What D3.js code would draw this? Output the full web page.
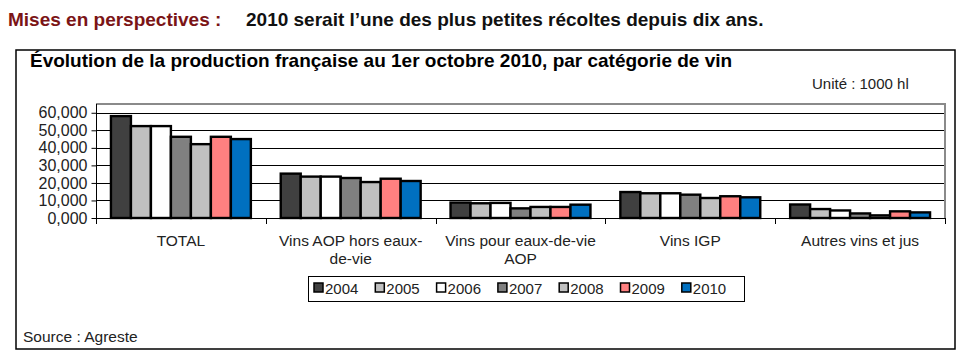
<!DOCTYPE html>
<html>
<head>
<meta charset="utf-8">
<script src="https://cdn.jsdelivr.net/npm/d3@7"></script>
<style>
  body { margin: 0; background: #fff; }
  svg { display: block; font-family: "Liberation Sans", Arial, sans-serif; }
</style>
</head>
<body>
<div id="chart"></div>
<script>
(function() {
const categories = ["TOTAL", "Vins AOP hors eaux-de-vie", "Vins pour eaux-de-vie AOP", "Vins IGP", "Autres vins et jus"];
const years = ["2004", "2005", "2006", "2007", "2008", "2009", "2010"];
// production, 1000 hl, one array per year (same order as categories)
const v2004 = [58100, 25300, 8800, 14800, 7700];
const v2005 = [52400, 23600, 8400, 14100, 5100];
const v2006 = [52400, 23600, 8600, 14100, 4300];
const v2007 = [46300, 22800, 5500, 13300, 2600];
const v2008 = [42100, 20500, 6300, 11400, 1500];
const v2009 = [46300, 22400, 6300, 12400, 3800];
const v2010 = [45000, 21100, 7600, 11800, 3200];
const yTicks = [0, 10000, 20000, 30000, 40000, 50000, 60000];
const colors = ["#404040", "#c0c0c0", "#ffffff", "#808080", "#c0c0c0", "#ff8080", "#0070c0"];

const series = [v2004, v2005, v2006, v2007, v2008, v2009, v2010];
const rows = [];
categories.forEach((c, i) => {
  years.forEach((yr, j) => rows.push({ cat: c, year: yr, value: series[j][i], color: colors[j] }));
});

const W = 972, H = 364;
const svg = d3.select('#chart').append('svg')
  .attr('width', W).attr('height', H);

// header line
svg.append('text')
  .attr('x', 8).attr('y', 26)
  .attr('font-size', 19).attr('font-weight', 'bold')
  .attr('fill', '#7b1416')
  .text('Mises en perspectives :');
svg.append('text')
  .attr('x', 246).attr('y', 26)
  .attr('font-size', 19).attr('font-weight', 'bold')
  .attr('fill', '#111')
  .text('2010 serait l\u2019une des plus petites récoltes depuis dix ans.');

// outer frame
svg.append('rect')
  .attr('x', 16).attr('y', 50)
  .attr('width', 939).attr('height', 299)
  .attr('fill', 'none')
  .attr('stroke', '#000')
  .attr('stroke-width', 1.5);

svg.append('text')
  .attr('x', 30).attr('y', 67)
  .attr('font-size', 19).attr('font-weight', 'bold')
  .attr('fill', '#000')
  .text('Évolution de la production française au 1er octobre 2010, par catégorie de vin');

svg.append('text')
  .attr('x', 812).attr('y', 89)
  .attr('font-size', 15)
  .attr('fill', '#222')
  .text('Unité : 1000 hl');

svg.append('text')
  .attr('x', 23).attr('y', 342)
  .attr('font-size', 15.5)
  .attr('fill', '#222')
  .text('Source : Agreste');

// plot area
const PL = 96, PR = 945, PT = 104, PB = 218;
const x0 = d3.scaleBand()
  .domain(categories)
  .range([PL, PR])
  .paddingInner(0.176)
  .paddingOuter(0.088);
const x1 = d3.scaleBand()
  .domain(years)
  .range([0, x0.bandwidth()]);
const y = d3.scaleLinear()
  .domain([0, 65000])
  .range([PB, PT]);

// gridlines
svg.append('g')
  .selectAll('line')
  .data(yTicks.filter(t => t > 0))
  .enter().append('line')
  .attr('x1', PL).attr('x2', PR)
  .attr('y1', d => Math.round(y(d)) + 0.5)
  .attr('y2', d => Math.round(y(d)) + 0.5)
  .attr('stroke', '#000')
  .attr('stroke-width', 1);

// plot area border (top + right, grey)
svg.append('path')
  .attr('d', `M${PL},${PT} H${PR} V${PB}`)
  .attr('fill', 'none')
  .attr('stroke', '#8a8a8a')
  .attr('stroke-width', 2);

// bars
svg.append('g')
  .selectAll('rect')
  .data(rows)
  .enter().append('rect')
  .attr('x', d => x0(d.cat) + x1(d.year))
  .attr('y', d => y(d.value))
  .attr('width', x1.bandwidth())
  .attr('height', d => y(0) - y(d.value))
  .attr('fill', d => d.color)
  .attr('stroke', '#000')
  .attr('stroke-width', 2.4);

// y axis
const yAxis = svg.append('g')
  .attr('transform', `translate(${PL + 0.5},0)`)
  .call(d3.axisLeft(y).tickValues(yTicks).tickSize(5).tickPadding(4)
    .tickFormat(d => d3.format(',')(d / 1000) + ',000').tickSizeOuter(0));
yAxis.select('.domain').attr('d', `M0,${PT}V${PB}`).attr('stroke', '#000');
yAxis.selectAll('.tick text')
  .attr('font-size', 16)
  .attr('font-family', '"Liberation Sans", Arial, sans-serif')
  .attr('fill', '#222');

// x axis line + category boundary ticks
const bounds = categories.map(c => x0(c) - x0.step() * x0.paddingInner() / 2).concat([PR]);
svg.append('line')
  .attr('x1', PL).attr('x2', PR)
  .attr('y1', PB + 0.5).attr('y2', PB + 0.5)
  .attr('stroke', '#000');
svg.append('g')
  .selectAll('line')
  .data(bounds)
  .enter().append('line')
  .attr('x1', d => Math.round(d) + 0.5).attr('x2', d => Math.round(d) + 0.5)
  .attr('y1', PB).attr('y2', PB + 6)
  .attr('stroke', '#000');

// category labels, wrapped at spaces and hyphens
const catLabels = svg.append('g')
  .selectAll('text')
  .data(categories)
  .enter().append('text')
  .attr('x', d => x0(d) + x0.bandwidth() / 2)
  .attr('y', 246)
  .attr('text-anchor', 'middle')
  .attr('font-size', 15.5)
  .attr('fill', '#222');

catLabels.each(function(d) {
  const el = d3.select(this);
  const tokens = d.match(/[^\s-]+-?\s*/g);
  const lines = [];
  let cur = '';
  const probe = el.append('tspan');
  tokens.forEach(t => {
    const test = cur + t;
    probe.text(test.trim());
    if (cur && probe.node().getComputedTextLength() > 160) {
      lines.push(cur.trim());
      cur = t;
    } else {
      cur = test;
    }
  });
  lines.push(cur.trim());
  probe.remove();
  lines.forEach((ln, i) => {
    el.append('tspan')
      .attr('x', x0(d) + x0.bandwidth() / 2)
      .attr('dy', i === 0 ? 0 : 18)
      .text(ln);
  });
});

// legend
const LX = 308, LY = 276, LW = 436, LH = 25;
svg.append('rect')
  .attr('x', LX + 0.5).attr('y', LY + 0.5)
  .attr('width', LW).attr('height', LH)
  .attr('fill', '#fff')
  .attr('stroke', '#000');
const legendStep = 61.3;
const items = svg.append('g')
  .selectAll('g')
  .data(years)
  .enter().append('g')
  .attr('transform', (d, i) => `translate(${LX + 6 + i * legendStep},${LY + 7})`);
items.append('rect')
  .attr('width', 9).attr('height', 9)
  .attr('fill', (d, i) => colors[i])
  .attr('stroke', '#000')
  .attr('stroke-width', 1.5);
items.append('text')
  .attr('x', 11).attr('y', 10.5)
  .attr('font-size', 15)
  .attr('fill', '#222')
  .text(d => d);
})();
</script>
</body>
</html>
